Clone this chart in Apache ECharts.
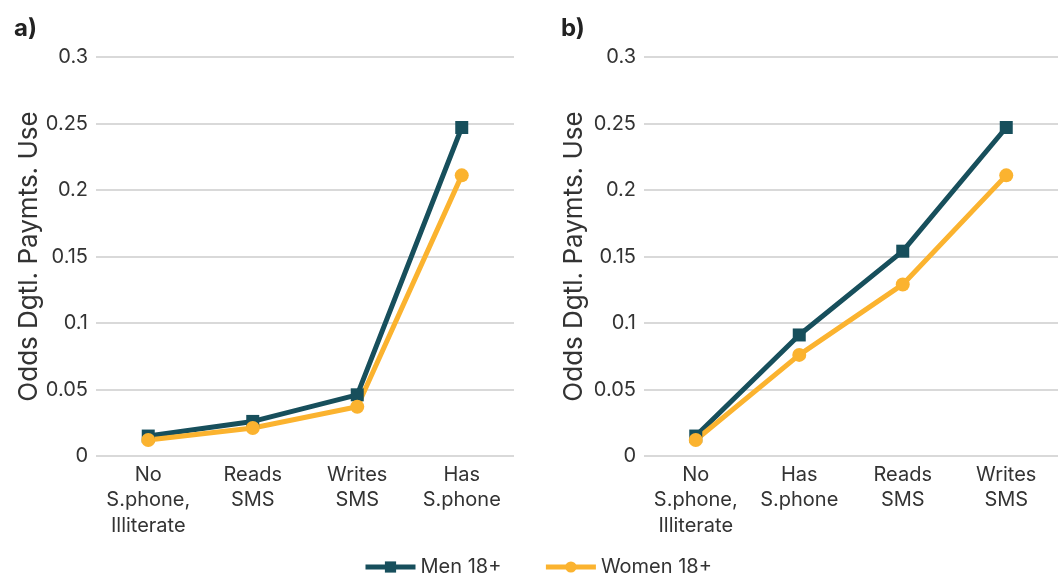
<!DOCTYPE html>
<html>
<head>
<meta charset="utf-8">
<title>Odds of digital payments use</title>
<script src="https://cdn.jsdelivr.net/npm/echarts@6/dist/echarts.min.js"></script>
<style>
  html, body { margin: 0; padding: 0; background: #fff; }
  #chart { width: 1058px; height: 575px; }
</style>
</head>
<body>
<div id="chart"></div>
<script>
// panel a)
var catsA = ['No\nS.phone,\nIlliterate', 'Reads\nSMS', 'Writes\nSMS', 'Has\nS.phone']
var menA = [0.015, 0.026, 0.046, 0.247]
var womenA = [0.012, 0.021, 0.037, 0.211]
// panel b)
var catsB = ['No\nS.phone,\nIlliterate', 'Has\nS.phone', 'Reads\nSMS', 'Writes\nSMS']
var menB = [0.015, 0.091, 0.154, 0.247]
var womenB = [0.012, 0.076, 0.129, 0.211]

var MEN = '#174f5c'
var WOMEN = '#fbb32f'
var TXT = '#333'
var FONT = 'Inter'

var chart = echarts.init(document.getElementById('chart'))

function xAxis(idx, cats) {
  return {
    type: 'category',
    gridIndex: idx,
    data: cats,
    axisLine: { show: false },
    axisTick: { show: false },
    axisLabel: { interval: 0, color: TXT, fontSize: 20, fontFamily: FONT, lineHeight: 25.5, margin: 6 }
  }
}
function yAxis(idx, gap) {
  return {
    type: 'value',
    gridIndex: idx,
    min: 0,
    max: 0.3,
    interval: 0.05,
    name: 'Odds Dgtl. Paymts. Use',
    nameLocation: 'middle',
    nameGap: gap,
    nameTextStyle: { color: TXT, fontSize: 26, fontFamily: FONT },
    axisLine: { show: false },
    axisTick: { show: false },
    axisLabel: { color: TXT, fontSize: 20, fontFamily: FONT, margin: 8 },
    splitLine: { lineStyle: { color: '#d9d9d9', width: 2 } }
  }
}
function line(name, idx, data, color, symbol, size) {
  return {
    name: name,
    type: 'line',
    xAxisIndex: idx,
    yAxisIndex: idx,
    data: data,
    symbol: symbol,
    symbolSize: size,
    lineStyle: { color: color, width: 5 },
    itemStyle: { color: color },
    animation: false
  }
}

chart.setOption({
  textStyle: { fontFamily: FONT },
  title: [
    { text: 'a)', left: 9, top: 12, textStyle: { fontSize: 24, fontWeight: 'bold', color: '#222', fontFamily: FONT } },
    { text: 'b)', left: 556, top: 12, textStyle: { fontSize: 24, fontWeight: 'bold', color: '#222', fontFamily: FONT } }
  ],
  legend: {
    bottom: -7,
    left: 358,
    itemWidth: 50,
    itemHeight: 14,
    itemGap: 42,
    lineStyle: { width: 5 },
    textStyle: { color: TXT, fontSize: 20, fontFamily: FONT },
    data: ['Men 18+', 'Women 18+']
  },
  grid: [
    { left: 96, width: 418, top: 57, height: 399 },
    { left: 644, width: 420, top: 57, height: 399 }
  ],
  xAxis: [xAxis(0, catsA), xAxis(1, catsB)],
  yAxis: [yAxis(0, 53), yAxis(1, 57)],
  series: [
    line('Men 18+', 0, menA, MEN, 'rect', 13),
    line('Women 18+', 0, womenA, WOMEN, 'circle', 14),
    line('Men 18+', 1, menB, MEN, 'rect', 13),
    line('Women 18+', 1, womenB, WOMEN, 'circle', 14)
  ]
})
</script>
</body>
</html>
